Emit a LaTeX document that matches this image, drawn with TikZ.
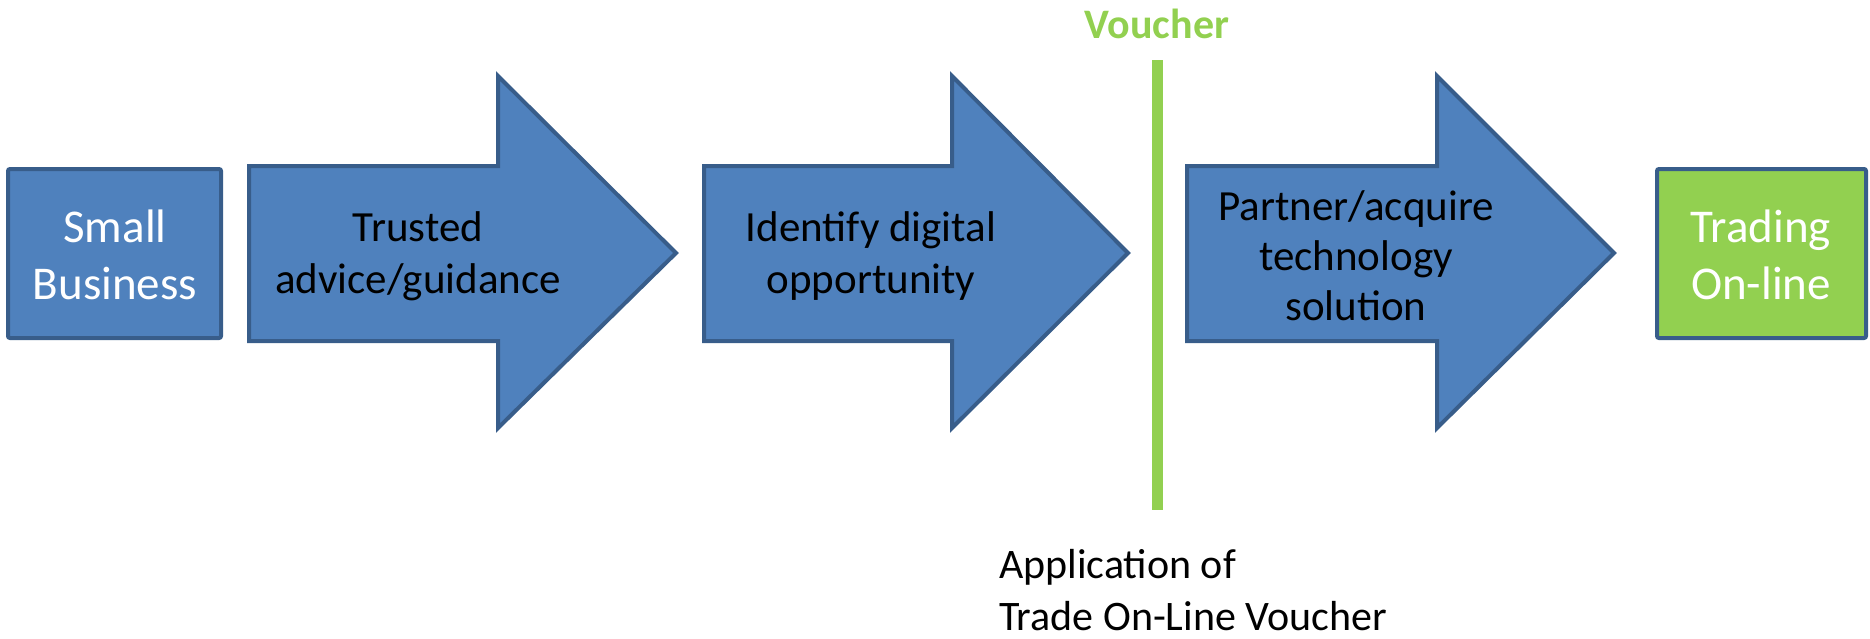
\documentclass[tikz,border=0pt]{standalone}
\usepackage{fontspec}
\setmainfont{Carlito}
\definecolor{boxblue}{HTML}{4F81BD}
\definecolor{edgeblue}{HTML}{385D8A}
\definecolor{vgreen}{HTML}{92D050}
\begin{document}
\begin{tikzpicture}[x=0.5pt,y=-0.5pt,
  shapestyle/.style={fill=boxblue,draw=edgeblue,line width=2pt,line join=miter},
  boxstyle/.style={shapestyle,rounded corners=1pt},
  arrowtext/.style={align=center,text=black,font=\fontsize{21.5}{26}\selectfont},
  boxtext/.style={align=center,text=white,font=\fontsize{23.5}{28.5}\selectfont}]
\useasboundingbox (0,0) rectangle (1870,638);
% start box
\draw[boxstyle] (8,169) rectangle (221,338);
\node[boxtext] (small) at (115,255) {Small\\Business};
% arrow 1
\draw[shapestyle] (249,166) -- (498,166) -- (498,76) -- (676,253) -- (498,428) -- (498,341) -- (249,341) -- cycle;
\node[arrowtext] (trusted) at (418,256) {Trusted\\advice/guidance};
% arrow 2
\draw[shapestyle] (704,166) -- (952,166) -- (952,76) -- (1128,253) -- (952,428) -- (952,341) -- (704,341) -- cycle;
\node[arrowtext] (identify) at (871,256) {Identify digital\\opportunity};
% voucher line
\coordinate (vtop) at (1157,60);
\coordinate (vbot) at (1157,510);
\draw[vgreen,line width=5.5pt] (vtop) -- (vbot);
\node[font=\bfseries\fontsize{21}{25}\selectfont,text=vgreen] (voucher) at (1157,24) {Voucher};
% arrow 3
\draw[shapestyle] (1187,166) -- (1437,166) -- (1437,76) -- (1614,253) -- (1437,428) -- (1437,341) -- (1187,341) -- cycle;
\node[arrowtext,font=\fontsize{21.5}{25}\selectfont] (partner) at (1356,256) {Partner/acquire\\technology\\solution};
% end box
\draw[boxstyle,fill=vgreen] (1657,169) rectangle (1866,338);
\node[boxtext] (trading) at (1761,255) {Trading\\On-line};
% bottom note
\node[anchor=west,align=left,font=\fontsize{21}{26}\selectfont] (note) at (992,590) {Application of\\Trade On-Line Voucher};
\end{tikzpicture}
\end{document}
